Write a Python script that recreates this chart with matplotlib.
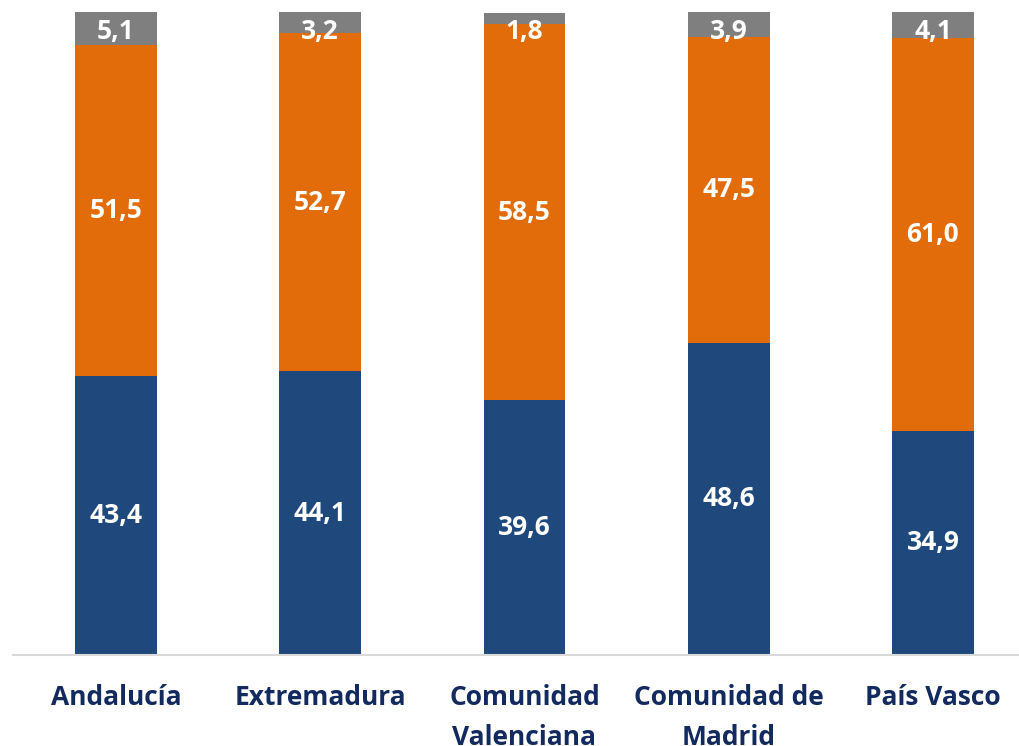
import matplotlib
matplotlib.use("Agg")
import matplotlib.pyplot as plt
import numpy as np

categories = ["Andalucía", "Extremadura", "Comunidad\nValenciana", "Comunidad de\nMadrid", "País Vasco"]
blue_vals = [43.4, 44.1, 39.6, 48.6, 34.9]
orange_vals = [51.5, 52.7, 58.5, 47.5, 61.0]
gray_vals = [5.1, 3.2, 1.8, 3.9, 4.1]

BLUE = "#1F497D"
ORANGE = "#E36C0A"
GRAY = "#7F7F7F"
NAVY = "#132A5E"

plt.rcParams["font.family"] = ["Open Sans", "DejaVu Sans"]

fig = plt.figure(figsize=(10.19, 7.46), dpi=100)
ax = fig.add_axes([13 / 1019, 91 / 746, 1 - 13 / 1019, (655 - 12) / 746])

x = np.arange(len(categories))
w = 0.40
blue = np.array(blue_vals)
orange = np.array(orange_vals)
gray = np.array(gray_vals)

ax.bar(x, blue, w, color=BLUE)
ax.bar(x, orange, w, bottom=blue, color=ORANGE)
ax.bar(x, gray, w, bottom=blue + orange, color=GRAY)

def fmt(v):
    return f"{v:.1f}".replace(".", ",")

LABEL_FS = 19
TOP_LABEL_Y = 96.9  # keep the top-segment labels inside the plot area

for i in range(len(x)):
    ax.text(x[i], blue[i] / 2, fmt(blue[i]), ha="center", va="center",
            color="white", fontsize=LABEL_FS, fontweight="bold")
    ax.text(x[i], blue[i] + orange[i] / 2, fmt(orange[i]), ha="center", va="center",
            color="white", fontsize=LABEL_FS, fontweight="bold")
    y_top = min(blue[i] + orange[i] + gray[i] / 2, TOP_LABEL_Y)
    ax.text(x[i], y_top, fmt(gray[i]), ha="center", va="center",
            color="white", fontsize=LABEL_FS, fontweight="bold")

ax.set_xlim((13 - 116) / 204.25, (1019 - 116) / 204.25)
ax.set_ylim(0, 100)
ax.set_yticks([])
ax.set_xticks(x)
ax.set_xticklabels(categories, fontsize=19, fontweight="bold", color=NAVY, linespacing=1.6)
ax.tick_params(axis="x", length=0, pad=21)
for s in ["top", "right", "left"]:
    ax.spines[s].set_visible(False)
ax.spines["bottom"].set_color("#D9D9D9")
ax.spines["bottom"].set_linewidth(1.5)

fig.savefig("out.png", dpi=100)
